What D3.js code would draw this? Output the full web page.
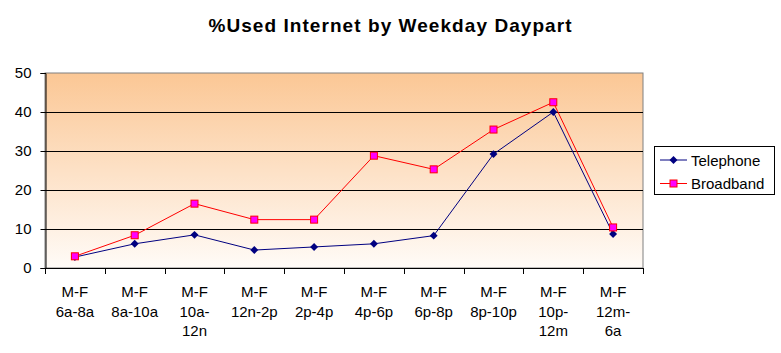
<!DOCTYPE html>
<html>
<head>
<meta charset="utf-8">
<script src="https://cdn.jsdelivr.net/npm/d3@7"></script>
<style>
  body { margin: 0; background: #fff; }
  svg text { font-family: Arial, "Liberation Sans", sans-serif; fill: #000; }
</style>
</head>
<body>
<svg id="chart" width="781" height="353"></svg>
<script>
// data
let dayparts = [["M-F", "6a-8a"], ["M-F", "8a-10a"], ["M-F", "10a-", "12n"], ["M-F", "12n-2p"],
  ["M-F", "2p-4p"], ["M-F", "4p-6p"], ["M-F", "6p-8p"], ["M-F", "8p-10p"], ["M-F", "10p-", "12m"], ["M-F", "12m-", "6a"]];
let telephone = [2.8, 6.2, 8.5, 4.6, 5.4, 6.2, 8.3, 29.2, 40.0, 8.7];
let broadband = [3.0, 8.4, 16.5, 12.4, 12.4, 28.8, 25.3, 35.5, 42.5, 10.4];
let yTicks = [0, 10, 20, 30, 40, 50];

let LEFT = 45, RIGHT = 643, TOP = 73, BOTTOM = 268;
let svg = d3.select('#chart');

let idx = d3.range(dayparts.length);

// band scale for the category slots, tick marks between them
let xScale = d3.scaleBand().domain(idx).range([LEFT, RIGHT]);
let yScale = d3.scaleLinear().domain([0, 50]).range([BOTTOM, TOP]);

// background gradient of plot area
let grad = svg.append('defs').append('linearGradient')
  .attr('id', 'bg').attr('x1', 0).attr('y1', 0).attr('x2', 0).attr('y2', 1);
grad.append('stop').attr('offset', '0%').attr('stop-color', '#fbc795');
grad.append('stop').attr('offset', '100%').attr('stop-color', '#fffbf7');

svg.append('rect')
  .attr('x', LEFT).attr('y', TOP)
  .attr('width', RIGHT - LEFT).attr('height', BOTTOM - TOP)
  .attr('fill', 'url(#bg)')
  .attr('stroke', '#808080');

// gridlines
svg.append('g')
  .selectAll('line')
  .data(yTicks.filter(d => d > 0 && d < 50))
  .join('line')
  .attr('x1', LEFT).attr('x2', RIGHT)
  .attr('y1', d => Math.round(yScale(d)) + 0.5)
  .attr('y2', d => Math.round(yScale(d)) + 0.5)
  .attr('stroke', '#000');

// y axis
let yAxis = svg.append('g')
  .attr('transform', `translate(${LEFT + 0.5},0)`)
  .call(d3.axisLeft(yScale).tickValues(yTicks).tickSize(5).tickPadding(9));
yAxis.select('.domain').attr('stroke', '#000');
yAxis.selectAll('text').attr('font-size', 15).style('font-family', 'Arial, "Liberation Sans", sans-serif');

// x axis: ticks on the slot boundaries
let edges = d3.range(dayparts.length + 1).map(i => LEFT + i * xScale.step());
let xAxis = svg.append('g');
xAxis.append('line')
  .attr('x1', LEFT).attr('x2', RIGHT)
  .attr('y1', BOTTOM + 0.5).attr('y2', BOTTOM + 0.5)
  .attr('stroke', '#000');
xAxis.selectAll('line.tick')
  .data(edges)
  .join('line')
  .attr('class', 'tick')
  .attr('x1', d => Math.round(d) + 0.5).attr('x2', d => Math.round(d) + 0.5)
  .attr('y1', BOTTOM).attr('y2', BOTTOM + 6)
  .attr('stroke', '#000');

let labs = svg.append('g').selectAll('text')
  .data(idx)
  .join('text')
  .attr('x', d => xScale(d) + xScale.bandwidth() / 2)
  .attr('y', 297)
  .attr('text-anchor', 'middle')
  .attr('font-size', 15);
labs.selectAll('tspan')
  .data(d => dayparts[d])
  .join('tspan')
  .attr('x', function() { return d3.select(this.parentNode).attr('x'); })
  .attr('dy', (d, i) => i == 0 ? 0 : 19.5)
  .text(d => d);

let cx = i => xScale(i) + xScale.bandwidth() / 2;

let lineGenerator = d3.line()
  .x((d, i) => cx(i))
  .y(d => yScale(d));

// lines
svg.append('path').datum(telephone)
  .attr('d', lineGenerator).attr('fill', 'none').attr('stroke', '#000080').attr('stroke-width', 1);
svg.append('path').datum(broadband)
  .attr('d', lineGenerator).attr('fill', 'none').attr('stroke', '#ff0000').attr('stroke-width', 1);

let diamond = d3.symbol().type(d3.symbolDiamond2).size(40);

// markers
svg.append('g').selectAll('path')
  .data(telephone)
  .join('path')
  .attr('d', diamond)
  .attr('transform', (d, i) => `translate(${cx(i)},${yScale(d)})`)
  .attr('fill', '#000080');

svg.append('g').selectAll('rect')
  .data(broadband)
  .join('rect')
  .attr('x', (d, i) => cx(i) - 3.5)
  .attr('y', d => yScale(d) - 3.5)
  .attr('width', 7).attr('height', 7)
  .attr('fill', '#ff00ff')
  .attr('stroke', '#ff0000');

// title
svg.append('text')
  .attr('x', 390).attr('y', 32)
  .attr('text-anchor', 'middle')
  .attr('font-size', 19)
  .attr('font-weight', 'bold')
  .attr('textLength', 363)
  .attr('lengthAdjust', 'spacing')
  .text('%Used Internet by Weekday Daypart');

// legend
let legend = svg.append('g');
legend.append('rect')
  .attr('x', 654.5).attr('y', 146.5).attr('width', 120).attr('height', 48)
  .attr('fill', '#fff').attr('stroke', '#000');

let series = [
  { name: 'Telephone', color: '#000080' },
  { name: 'Broadband', color: '#ff0000' }
];
let rows = legend.selectAll('g.item')
  .data(series)
  .join('g')
  .attr('class', 'item')
  .attr('transform', (d, i) => `translate(0,${160 + i * 23.5})`);
rows.append('line')
  .attr('x1', 660).attr('x2', 687).attr('y1', 0).attr('y2', 0)
  .attr('stroke', d => d.color);
rows.each(function(d, i) {
  let g = d3.select(this);
  if (i == 0) {
    g.append('path').attr('d', diamond).attr('transform', 'translate(673.5,0)').attr('fill', d.color);
  } else {
    g.append('rect').attr('x', 670).attr('y', -3.5).attr('width', 7).attr('height', 7)
      .attr('fill', '#ff00ff').attr('stroke', '#ff0000');
  }
});
rows.append('text')
  .attr('x', 691).attr('y', 5.5)
  .attr('font-size', 15)
  .text(d => d.name);
</script>
</body>
</html>
